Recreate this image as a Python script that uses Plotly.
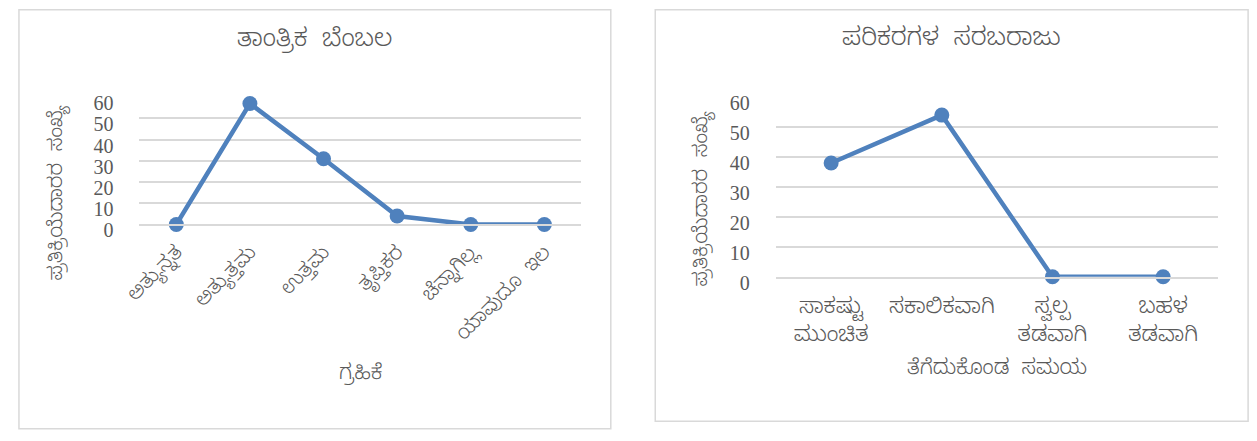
import plotly.graph_objects as go

W, H = 1257, 441

# ---- data ----
left_title = "ತಾಂತ್ರಿಕ  ಬೆಂಬಲ"
left_categories = ["ಅತ್ಯುನ್ನತ", "ಅತ್ಯುತ್ತಮ", "ಉತ್ತಮ", "ತೃಪ್ತಿಕರ", "ಚೆನ್ನಾಗಿಲ್ಲ", "ಯಾವುದೂ  ಇಲ"]
left_values = [0, 57, 31, 4, 0, 0]
left_xtitle = "ಗ್ರಹಿಕೆ"

right_title = "ಪರಿಕರಗಳ  ಸರಬರಾಜು"
right_categories = ["ಸಾಕಷ್ಟು<br>ಮುಂಚಿತ", "ಸಕಾಲಿಕವಾಗಿ", "ಸ್ವಲ್ಪ<br>ತಡವಾಗಿ", "ಬಹಳ<br>ತಡವಾಗಿ"]
right_values = [38, 54, 0, 0]
right_xtitle = "ತೆಗೆದುಕೊಂಡ  ಸಮಯ"

y_title = "ಪ್ರತಿಕ್ರಿಯೆದಾರರ  ಸಂಖ್ಯೆ"
y_ticks = [0, 10, 20, 30, 40, 50, 60]

# ---- style ----
BLUE = "#4f81bd"
GRID = "#d9d9d9"
TXT = "#595959"
KN_FONT = "Noto Sans Kannada, Noto Sans, sans-serif"
NUM_FONT = "Liberation Serif, Times New Roman, serif"


def px(x):
    return x / W


def py(y):
    return 1 - y / H


fig = go.Figure()
fig.add_trace(go.Scatter(x=left_categories, y=left_values, mode="lines+markers",
                         line=dict(color=BLUE, width=4.5), marker=dict(size=15, color=BLUE),
                         cliponaxis=False, xaxis="x", yaxis="y", showlegend=False))
fig.add_trace(go.Scatter(x=right_categories, y=right_values, mode="lines+markers",
                         line=dict(color=BLUE, width=4.5), marker=dict(size=15, color=BLUE),
                         cliponaxis=False, xaxis="x2", yaxis="y2", showlegend=False))

yaxis_common = dict(range=[0, 60], tickvals=y_ticks, showgrid=True, gridcolor=GRID, gridwidth=1.5,
                    zeroline=False, showline=False, ticks="",
                    tickfont=dict(family=NUM_FONT, size=20, color=TXT),
                    ticklabelstandoff=25, ticklabelshift=6, fixedrange=True)
xaxis_common = dict(type="category", showgrid=False, zeroline=False, ticks="",
                    showline=True, linecolor=GRID, linewidth=1.5,
                    tickfont=dict(family=KN_FONT, size=20, color=TXT, weight=300), fixedrange=True)

fig.update_layout(
    width=W, height=H, margin=dict(l=0, r=0, t=0, b=0),
    paper_bgcolor="white", plot_bgcolor="white",
    xaxis=dict(xaxis_common, domain=[px(126), px(573)], range=[-0.5, 5.5], anchor="y",
               tickangle=-45, ticklabelstandoff=6),
    yaxis=dict(yaxis_common, domain=[py(231), py(97)], anchor="x"),
    xaxis2=dict(xaxis_common, domain=[px(770), px(1218)], range=[-0.5, 3.5], anchor="y2",
                tickangle=0, ticklabelstandoff=8,
                tickfont=dict(family=KN_FONT, size=22, color=TXT, weight=300)),
    yaxis2=dict(yaxis_common, domain=[py(286), py(97)], anchor="x2"),
)

# chart-area borders
fig.add_shape(type="rect", xref="paper", yref="paper", x0=px(4), x1=px(603), y0=py(446), y1=py(5),
              line=dict(color=GRID, width=1.5), layer="below")
fig.add_shape(type="rect", xref="paper", yref="paper", x0=px(648), x1=px(1248), y0=py(438), y1=py(5),
              line=dict(color=GRID, width=1.5), layer="below")

ann = [
    dict(text=left_title, x=px(303), y=py(39), size=25),
    dict(text=right_title, x=px(948), y=py(39), size=25),
    dict(text=left_xtitle, x=px(350), y=py(390), size=21),
    dict(text=right_xtitle, x=px(994), y=py(385), size=21),
    dict(text=y_title, x=px(45), y=py(198), size=20, angle=-90),
    dict(text=y_title, x=px(697), y=py(204), size=20, angle=-90),
]
for a in ann:
    fig.add_annotation(text=a["text"], x=a["x"], y=a["y"], xref="paper", yref="paper",
                       xanchor="center", yanchor="middle", showarrow=False,
                       textangle=a.get("angle", 0),
                       font=dict(family=KN_FONT, size=a["size"], color=TXT, weight=300))

fig.write_html("out.html", config={"displayModeBar": False},
               post_script="document.body.style.margin='0';")
